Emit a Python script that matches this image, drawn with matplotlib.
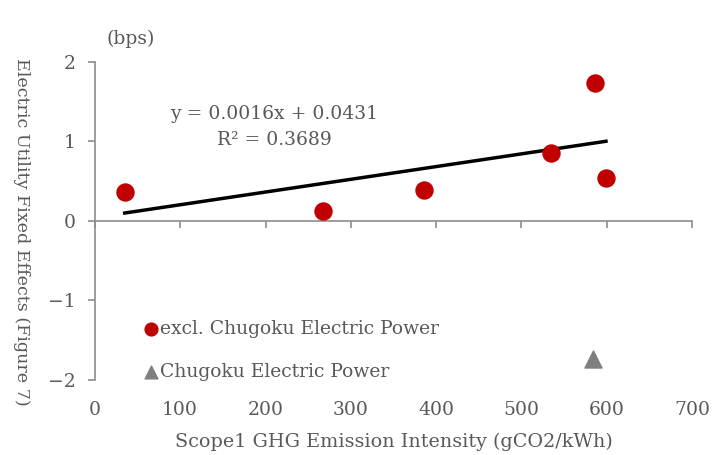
import numpy as np
import matplotlib
matplotlib.use('Agg')
import matplotlib.pyplot as plt

plt.rcParams['font.family'] = ['DejaVu Serif']

# excl. Chugoku Electric Power
intensity = [35, 267, 386, 535, 586, 599]
fixed_effect = [0.365, 0.13, 0.39, 0.855, 1.74, 0.54]
# Chugoku Electric Power
chugoku_x = [584]
chugoku_y = [-1.74]

slope, intercept = 0.0016, 0.0431
x_ticks = [0, 100, 200, 300, 400, 500, 600, 700]
y_ticks = [-2, -1, 0, 1, 2]

red = '#C00000'
gray_text = '#595959'
gray_axis = '#8C8C8C'

fig = plt.figure(figsize=(7.24, 4.55), dpi=100)
ax = fig.add_axes([0.131, 0.165, 0.825, 0.699])

# trendline over the range of the red points
xs = np.array([min(intensity), max(intensity)])
ax.plot(xs, slope * xs + intercept, color='black', lw=2.5, zorder=2)

ax.scatter(intensity, fixed_effect, s=150, color=red, zorder=3,
           label='excl. Chugoku Electric Power')
ax.scatter(chugoku_x, chugoku_y, s=150, marker='^', color='#7F7F7F', zorder=3,
           label='Chugoku Electric Power')

ax.set_xlim(0, 700)
ax.set_ylim(-2, 2)
ax.set_xticks(x_ticks)
ax.set_yticks(y_ticks)
ax.set_yticklabels(['\u22122', '\u22121', '0', '1', '2'])

for s in ['top', 'right']:
    ax.spines[s].set_visible(False)
ax.spines['bottom'].set_position(('data', 0))
for s in ['left', 'bottom']:
    ax.spines[s].set_color(gray_axis)
    ax.spines[s].set_linewidth(1.2)
ax.tick_params(axis='both', colors=gray_axis, length=5, width=1.2,
               labelsize=13.5, labelcolor=gray_text)
ax.tick_params(axis='y', pad=9)
ax.tick_params(axis='x', labelbottom=False)

# tick labels along the bottom edge
sec = ax.secondary_xaxis('bottom')
sec.set_xticks(x_ticks)
sec.spines['bottom'].set_visible(False)
sec.tick_params(length=0, labelsize=13.5, labelcolor=gray_text, pad=15)
sec.set_xlabel('Scope1 GHG Emission Intensity (gCO2/kWh)', fontsize=13.8,
               color=gray_text, labelpad=10)

fig.text(0.030, 0.49, 'Electric Utility Fixed Effects (Figure 7)', rotation=-90,
         ha='center', va='center', fontsize=12.6, color=gray_text)
fig.text(0.18, 0.915, '(bps)', ha='center', va='center', fontsize=13.5, color=gray_text)

ax.text(210, 1.18, 'y = 0.0016x + 0.0431\nR\u00b2 = 0.3689', ha='center', va='center',
        fontsize=13.5, color=gray_text, linespacing=1.55)

leg = ax.legend(loc='lower left', bbox_to_anchor=(0.052, -0.055), frameon=False,
                handletextpad=0.0, handlelength=0.9, labelspacing=1.3,
                fontsize=13.5, markerscale=0.75)
for t in leg.get_texts():
    t.set_color(gray_text)

fig.savefig('out.png', dpi=100)
